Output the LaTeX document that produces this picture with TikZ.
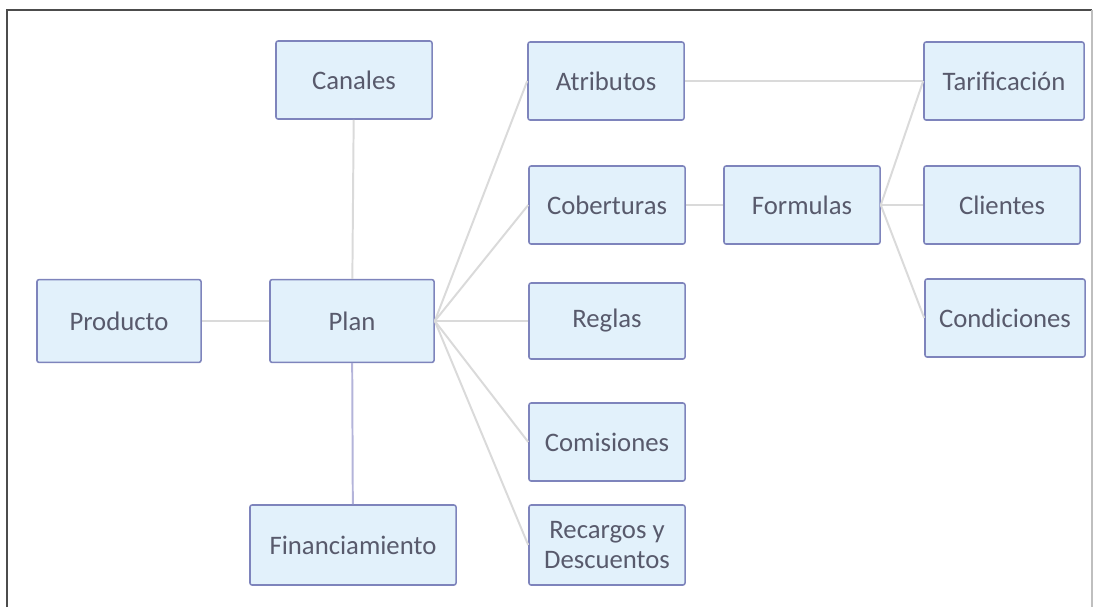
\documentclass[tikz,border=0pt]{standalone}
\usepackage{fontspec}
\setmainfont{Carlito}
\definecolor{boxfill}{HTML}{E2F1FB}
\definecolor{boxline}{HTML}{7E84BC}
\definecolor{boxtext}{HTML}{585A6C}
\definecolor{linkgray}{HTML}{DADADA}
\definecolor{linkblue}{HTML}{B4B4DA}
\tikzset{
    box/.style={draw=boxline, fill=boxfill, line width=1.1pt, rounded corners=1.5pt,
        text=boxtext, align=center, minimum width=3.9cm, minimum height=1.95cm,
        inner sep=2pt, font=\fontsize{19}{22}\selectfont},
    link/.style={draw=linkgray, line width=1.4pt},
}
\begin{document}
\begin{tikzpicture}[x=0.025cm, y=-0.025cm]
    \useasboundingbox (0, 0) rectangle (1097, 607);
        % frame
        \draw[line width=1.4pt, black!70] (7, 607) -- (7, 10) -- (1092, 10);
        \draw[line width=0.8pt, black!25] (1092, 10) -- (1092, 607);

        \node[box] (canales) at (354, 80) {Canales};
        \node[box] (atributos) at (606, 81) {Atributos};
        \node[box, minimum width=4cm] (tarificacion) at (1004, 81) {Tarificación};
        \node[box] (coberturas) at (607, 205) {Coberturas};
        \node[box] (formulas) at (802, 205) {Formulas};
        \node[box] (clientes) at (1002, 205) {Clientes};
        \node[box, minimum width=4.1cm, minimum height=2.07cm] (producto) at (119, 321) {Producto};
        \node[box, minimum width=4.1cm, minimum height=2.07cm] (plan) at (352, 321) {Plan};
        \node[box, minimum height=1.9cm] (reglas) at (607, 321) {Reglas};
        \node[box, minimum width=4cm] (condiciones) at (1005, 318) {Condiciones};
        \node[box] (comisiones) at (607, 442) {Comisiones};
        \node[box, minimum width=5.15cm, minimum height=2cm] (financiamiento) at (353, 545) {Financiamiento};
        \node[box, minimum height=2cm] (recargos) at (607, 545) {Recargos y\\Descuentos};

        \draw[link] (canales) -- (plan);
        \draw[link] (producto) -- (plan);
        \draw[link, draw=linkblue] (plan) -- (financiamiento);
        \foreach \n in {atributos, coberturas, reglas, comisiones, recargos} {
            \draw[link] (plan.east) -- (\n.west);
        }
        \draw[link] (atributos) -- (tarificacion);
        \draw[link] (coberturas) -- (formulas);
        \foreach \n in {tarificacion, clientes, condiciones} {
            \draw[link] (formulas.east) -- (\n.west);
        }
    \end{tikzpicture}
\end{document}
